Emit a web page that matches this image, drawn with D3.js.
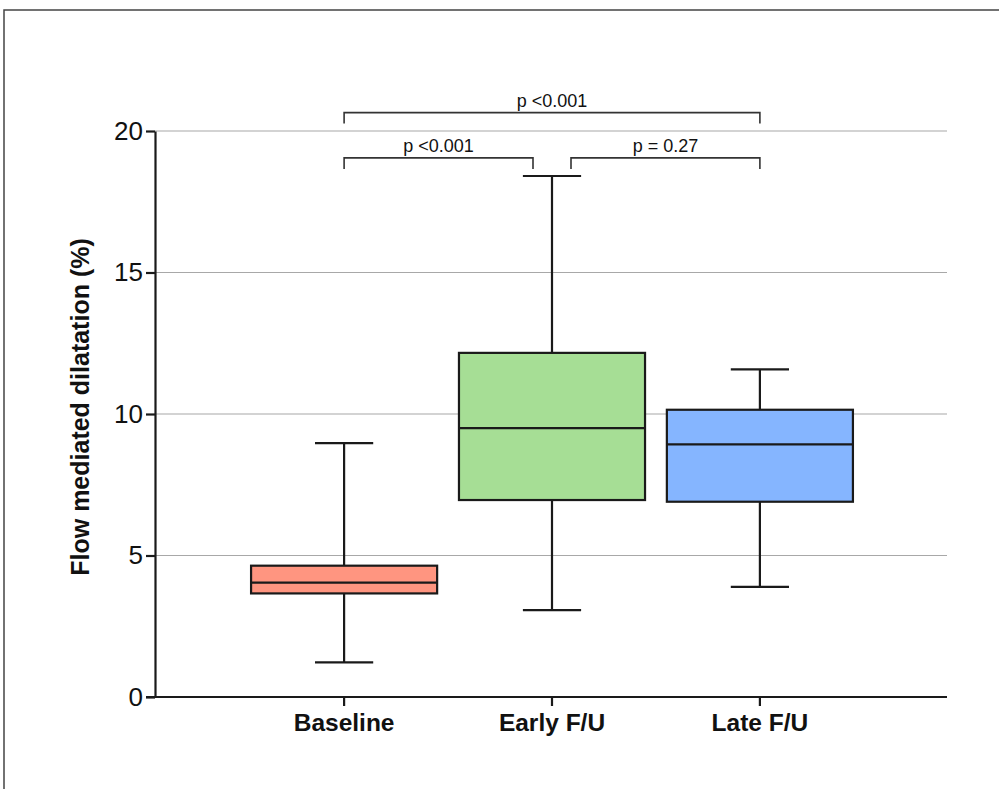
<!DOCTYPE html>
<html>
<head>
<meta charset="utf-8">
<script src="https://cdn.jsdelivr.net/npm/d3@7"></script>
<style>
  body { margin: 0; background: #fff; }
  svg { display: block; font-family: "Liberation Sans", Arial, Helvetica, sans-serif; }
</style>
</head>
<body>
<div id="chart"></div>
<script>
// groups and box stats (min, q1, median, q3, max)
var groups  = ["Baseline", "Early F/U", "Late F/U"];
var mins    = [1.22, 3.07, 3.89];
var q1s     = [3.66, 6.96, 6.90];
var medians = [4.04, 9.50, 8.93];
var q3s     = [4.64, 12.16, 10.15];
var maxs    = [8.97, 18.41, 11.58];
var colors  = ["#FF9580", "#A6DE95", "#85B5FF"];

var yTicks = [0, 5, 10, 15, 20];

// significance brackets
var cmpFrom   = [0, 0, 1];
var cmpTo     = [2, 1, 2];
var cmpLevel  = [20.65, 19.05, 19.05];
var cmpLabels = ["p <0.001", "p <0.001", "p = 0.27"];

var width = 999, height = 789;

var svg = d3.select("#chart")
  .append("svg")
    .attr("width", width)
    .attr("height", height);

// outer frame (top and left edges only visible)
svg.append("path")
  .attr("d", "M4," + height + "V10H" + width)
  .attr("fill", "none")
  .attr("stroke", "#444")
  .attr("stroke-width", 1.5);

var x = d3.scaleBand()
  .domain(groups)
  .range([157, 947])
  .paddingInner(0)
  .paddingOuter(0.4);

var y = d3.scaleLinear()
  .domain([0, 20])
  .range([697, 131]);

// grid lines
svg.append("g")
  .selectAll("line")
  .data(yTicks.filter(function(d) { return d > 0; }))
  .enter()
  .append("line")
    .attr("x1", 155)
    .attr("x2", 947)
    .attr("y1", function(d) { return y(d); })
    .attr("y2", function(d) { return y(d); })
    .attr("stroke", "#a8a8a8")
    .attr("stroke-width", 1.2);

var data = groups.map(function(g, i) {
  return { name: g, min: mins[i], q1: q1s[i], med: medians[i], q3: q3s[i], max: maxs[i], color: colors[i] };
});

var boxW = x.bandwidth() * 0.895;
var capW = x.bandwidth() * 0.28;

var box = svg.append("g")
  .selectAll("g")
  .data(data)
  .enter()
  .append("g")
    .attr("transform", function(d) { return "translate(" + (x(d.name) + x.bandwidth() / 2) + ",0)"; });

// whiskers
box.append("line")
  .attr("x1", 0).attr("x2", 0)
  .attr("y1", function(d) { return y(d.min); })
  .attr("y2", function(d) { return y(d.max); })
  .attr("stroke", "#1a1a1a")
  .attr("stroke-width", 2.2);

box.selectAll(".cap")
  .data(function(d) { return [d.min, d.max]; })
  .enter()
  .append("line")
    .attr("class", "cap")
    .attr("x1", -capW / 2).attr("x2", capW / 2)
    .attr("y1", function(v) { return y(v); })
    .attr("y2", function(v) { return y(v); })
    .attr("stroke", "#1a1a1a")
    .attr("stroke-width", 2.2);

box.append("rect")
  .attr("x", -boxW / 2)
  .attr("width", boxW)
  .attr("y", function(d) { return y(d.q3); })
  .attr("height", function(d) { return y(d.q1) - y(d.q3); })
  .attr("fill", function(d) { return d.color; })
  .attr("stroke", "#1a1a1a")
  .attr("stroke-width", 2.2);

box.append("line")
  .attr("x1", -boxW / 2).attr("x2", boxW / 2)
  .attr("y1", function(d) { return y(d.med); })
  .attr("y2", function(d) { return y(d.med); })
  .attr("stroke", "#1a1a1a")
  .attr("stroke-width", 2.2);

// y axis
var yAxis = svg.append("g")
  .attr("transform", "translate(155,0)")
  .call(d3.axisLeft(y).tickValues(yTicks).tickSize(9).tickSizeOuter(0).tickPadding(3));
yAxis.select(".domain").attr("stroke", "#1a1a1a").attr("stroke-width", 2.2);
yAxis.selectAll(".tick line").attr("stroke", "#1a1a1a").attr("stroke-width", 2.2);
yAxis.selectAll(".tick text")
  .attr("font-size", 26)
  .attr("font-family", "'Liberation Sans', Arial, sans-serif")
  .attr("fill", "#111");

// x axis
var xAxis = svg.append("g")
  .attr("transform", "translate(0,697)")
  .call(d3.axisBottom(x).tickSize(9).tickSizeOuter(0).tickPadding(8));
xAxis.select(".domain").remove();
xAxis.append("line")
  .attr("x1", 146).attr("x2", 947)
  .attr("stroke", "#1a1a1a")
  .attr("stroke-width", 2.2);
xAxis.selectAll(".tick line").attr("stroke", "#1a1a1a").attr("stroke-width", 2.2);
xAxis.selectAll(".tick text")
  .attr("font-size", 24.5)
  .attr("font-weight", "bold")
  .attr("font-family", "'Liberation Sans', Arial, sans-serif")
  .attr("fill", "#111");

// y axis title
svg.append("text")
  .attr("transform", "translate(89,407) rotate(-90)")
  .attr("text-anchor", "middle")
  .attr("font-size", 25)
  .attr("font-weight", "bold")
  .attr("fill", "#111")
  .text("Flow mediated dilatation (%)");

// significance brackets
var gap = 19, drop = 11;
var cmp = cmpLabels.map(function(l, i) {
  var a = x(groups[cmpFrom[i]]) + x.bandwidth() / 2;
  var b = x(groups[cmpTo[i]]) + x.bandwidth() / 2;
  // brackets that meet at the middle box stop short of its whisker
  if (cmpTo[i] === 1 && cmpFrom[i] === 0) b -= gap;
  if (cmpFrom[i] === 1) a += gap;
  return { a: a, b: b, yy: y(cmpLevel[i]), label: l };
});

var br = svg.append("g")
  .selectAll("g")
  .data(cmp)
  .enter()
  .append("g");

br.append("path")
  .attr("d", function(d) { return "M" + d.a + "," + (d.yy + drop) + "V" + d.yy + "H" + d.b + "V" + (d.yy + drop); })
  .attr("fill", "none")
  .attr("stroke", "#333")
  .attr("stroke-width", 1.6);

br.append("text")
  .attr("x", function(d) { return (d.a + d.b) / 2; })
  .attr("y", function(d) { return d.yy - 6; })
  .attr("text-anchor", "middle")
  .attr("font-size", 18)
  .attr("fill", "#111")
  .text(function(d) { return d.label; });
</script>
</body>
</html>
